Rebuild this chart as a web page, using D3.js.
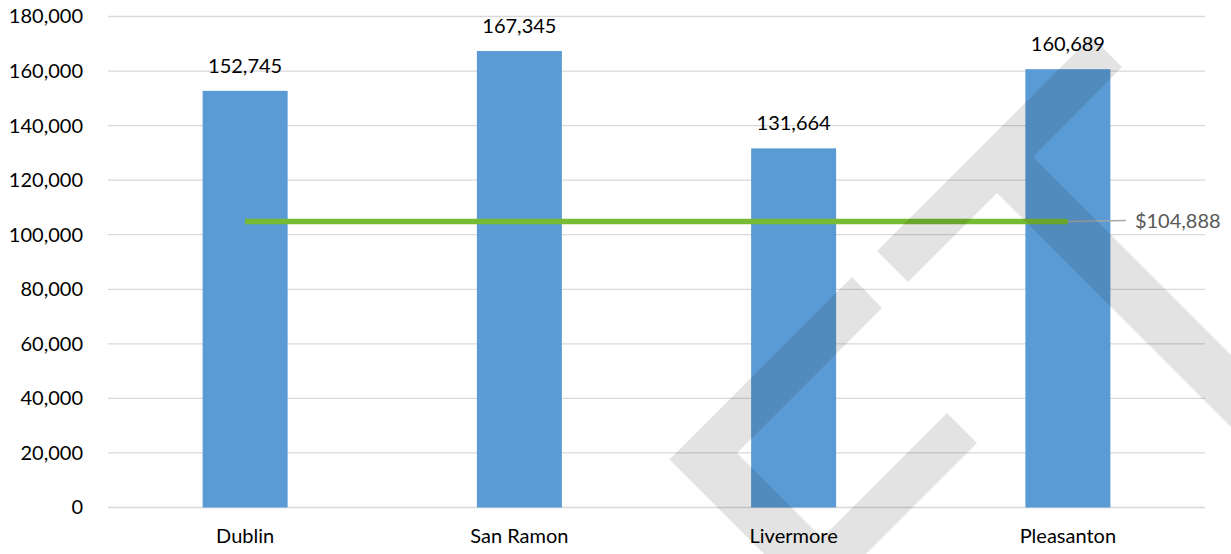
<!DOCTYPE html>
<html>
<head>
<meta charset="utf-8">
<script src="https://cdn.jsdelivr.net/npm/d3@7/dist/d3.min.js"></script>
<style>
  html, body { margin: 0; padding: 0; background: #fff; }
  svg { display: block; }
  text { font-family: Lato, "Open Sans", sans-serif; }
</style>
</head>
<body>
<svg id="chart" width="1231" height="554"></svg>
<script>
// Median household income by city, with the overall average as a reference line
const cities = ["Dublin", "San Ramon", "Livermore", "Pleasanton"];
const incomes = [152745, 167345, 131664, 160689];
const averageIncome = [104888, 104888, 104888, 104888];
const averageLabel = "$104,888";
const yTicks = [0, 20000, 40000, 60000, 80000, 100000, 120000, 140000, 160000, 180000];

const width = 1231, height = 554;
const margin = { top: 16.5, right: 26, bottom: 46.5, left: 108 };

const svg = d3.select("#chart");

const x = d3.scaleBand()
  .domain(cities)
  .range([margin.left, width - margin.right])
  .paddingInner(0.69)
  .paddingOuter(0.345);

const y = d3.scaleLinear()
  .domain([0, 180000])
  .range([height - margin.bottom, margin.top]);

const fmt = d3.format(",");

// horizontal gridlines
svg.append("g")
  .selectAll("line")
  .data(yTicks)
  .join("line")
  .attr("x1", margin.left)
  .attr("x2", width - margin.right)
  .attr("y1", d => y(d))
  .attr("y2", d => y(d))
  .attr("stroke", "#d9d9d9")
  .attr("stroke-width", 1.3);

// y axis labels
const yAxis = d3.axisLeft(y).tickValues(yTicks).tickFormat(fmt).tickSize(0).tickPadding(25);
const yg = svg.append("g").attr("transform", `translate(${margin.left},0)`).call(yAxis);
yg.select(".domain").remove();
yg.selectAll("text").attr("font-size", 20).attr("fill", "#000")
  .style("font-family", "Lato, 'Open Sans', sans-serif");

// x axis labels
const xAxis = d3.axisBottom(x).tickSize(0).tickPadding(21);
const xg = svg.append("g").attr("transform", `translate(0,${y(0)})`).call(xAxis);
xg.select(".domain").remove();
xg.selectAll("text").attr("font-size", 20).attr("fill", "#000")
  .style("font-family", "Lato, 'Open Sans', sans-serif");

// bars
svg.append("g")
  .selectAll("rect")
  .data(incomes)
  .join("rect")
  .attr("x", (d, i) => x(cities[i]))
  .attr("width", x.bandwidth())
  .attr("y", d => y(d))
  .attr("height", d => y(0) - y(d))
  .attr("fill", "#5b9bd5");

// value labels above bars
svg.append("g")
  .selectAll("text")
  .data(incomes)
  .join("text")
  .attr("x", (d, i) => x(cities[i]) + x.bandwidth() / 2)
  .attr("y", d => y(d) - 18)
  .attr("text-anchor", "middle")
  .attr("font-size", 20)
  .attr("fill", "#000")
  .text(d => fmt(d));

// average line
const line = d3.line()
  .x((d, i) => x(cities[i]) + x.bandwidth() / 2)
  .y(d => y(d));

svg.append("path")
  .datum(averageIncome)
  .attr("d", line)
  .attr("fill", "none")
  .attr("stroke", "#76bb33")
  .attr("stroke-width", 5.5);

// leader line and label for the average
const lastX = x(cities[cities.length - 1]) + x.bandwidth() / 2;
const lastY = y(averageIncome[averageIncome.length - 1]);
svg.append("line")
  .attr("x1", lastX).attr("x2", lastX + 58)
  .attr("y1", lastY).attr("y2", lastY - 0.8)
  .attr("stroke", "#a6a6a6")
  .attr("stroke-width", 1.5);
svg.append("text")
  .attr("x", lastX + 67)
  .attr("y", lastY)
  .attr("dy", "0.35em")
  .attr("font-size", 20)
  .attr("fill", "#595959")
  .text(averageLabel);

// translucent logo watermark laid over the plot
const watermark = [
  [[877, 251], [1091.5, 36.5], [1122, 67], [1033, 157], [1300, 424], [1300, 496], [997, 193], [908, 282]],
  [[852, 277], [669.5, 459.5], [815, 605], [977, 443], [947, 413], [822, 538], [737, 453], [882, 308]]
];
svg.append("g")
  .selectAll("path")
  .data(watermark)
  .join("path")
  .attr("d", d => "M" + d.map(p => p.join(",")).join("L") + "Z")
  .attr("fill", "#000")
  .attr("fill-opacity", 0.11);
</script>
</body>
</html>
